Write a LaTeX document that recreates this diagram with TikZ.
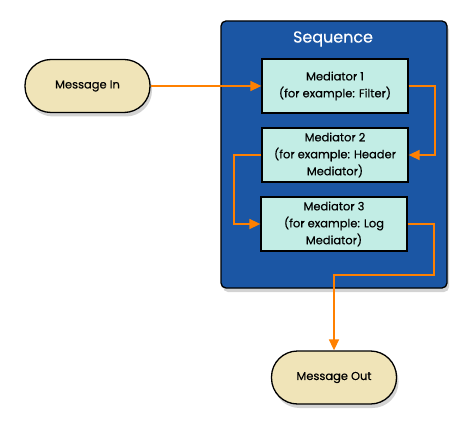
\documentclass[tikz,border=0pt]{standalone}
\usepackage{fontspec}
\setmainfont{Poppins}[FakeBold=0.4]
\usetikzlibrary{shadows,arrows.meta,positioning}
\definecolor{seqblue}{HTML}{1B56A4}
\definecolor{medfill}{HTML}{C2EDE5}
\definecolor{msgfill}{HTML}{F0E4B8}
\definecolor{flow}{HTML}{FF8000}
\begin{document}
\begin{tikzpicture}[x=1bp,y=-1bp,
  shadowed/.style={drop shadow={shadow xshift=2bp,shadow yshift=-4bp,opacity=0.35}},
  seqbox/.style={draw=black,line width=1.3bp,fill=seqblue,rounded corners=5bp,shadowed,minimum width=226bp,minimum height=267bp},
  medbox/.style={draw=black,line width=1.3bp,fill=medfill,minimum width=146bp,minimum height=54bp,align=center,font=\fontsize{11.5}{17}\selectfont,inner sep=0pt},
  msgbox/.style={draw=black,line width=1.3bp,fill=msgfill,rounded corners=26bp,minimum width=125bp,minimum height=53bp,shadowed,font=\fontsize{11.5}{17}\selectfont},
  flowline/.style={draw=flow,line width=1.6bp,-{Triangle[length=11bp,width=10bp]}}]
\useasboundingbox (0,0) rectangle (472,434);
\node[seqbox] (seq) at (334,154.5) {};
\node[text=white,font=\fontsize{16}{18}\selectfont] (seqlbl) at (333,39) {Sequence};
\node[medbox] (m1) at (335,86) {Mediator 1\\(for example: Filter)};
\node[medbox] (m2) at (335,155) {Mediator 2\\(for example: Header\\Mediator)};
\node[medbox] (m3) at (334,224) {Mediator 3\\(for example: Log\\Mediator)};
\node[msgbox] (in) at (87.5,86) {Message In};
\node[msgbox] (out) at (334,377.5) {Message Out};
\draw[flowline] (in.east) -- (m1.west);
\draw[flowline] (m1.east) -- (435,86) -- (435,155) -- (m2.east);
\draw[flowline] (m2.west) -- (234,155) -- (234,224) -- (m3.west);
\draw[flowline] (m3.east) -- (434,224) -- (434,275) -- (334,275) -- (out.north);
\end{tikzpicture}
\end{document}
